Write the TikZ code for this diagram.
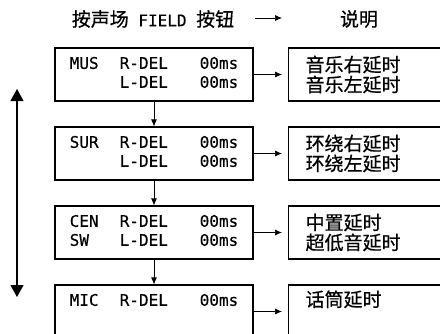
\documentclass[tikz,border=0pt]{standalone}
\usepackage{fontspec}
\setmonofont[FakeBold=0.4]{DejaVu Sans Mono}
\newfontfamily\cjk[FakeBold=0.6]{Noto Sans CJK SC}
\usetikzlibrary{arrows.meta, positioning}

\begin{document}
\begin{tikzpicture}[x=1pt, y=-1pt,
    lbox/.style={draw, line width=1.2pt, minimum width=198pt, minimum height=53pt, inner sep=0pt,
        font=\ttfamily\fontsize{16}{19}\selectfont},
    rbox/.style={draw, line width=1.2pt, minimum height=53pt, text width=138pt, inner xsep=17pt,
        inner ysep=0pt, align=left, anchor=west, font=\cjk\fontsize{19}{20}\selectfont},
    conn/.style={-{Latex[length=7pt,width=6pt]}, line width=0.7pt},
    updown/.style={{Triangle[length=12pt,width=13pt]}-{Triangle[length=12pt,width=13pt]}, line width=1.2pt}]
\useasboundingbox (0,0) rectangle (440,333);
\clip (0,0) rectangle (440,333);

% header
\node[font=\cjk\fontsize{19}{20}\selectfont] (head) at (153,19) {按声场{\ttfamily\fontsize{16}{19}\selectfont\ FIELD\ }按钮};
\node[font=\cjk\fontsize{19}{20}\selectfont] (note) at (359,19) {说明};
\coordinate (ha) at (255,18);
\coordinate (hb) at (282,18);
\draw[conn] (ha) -- (hb);

% display boxes
\node[lbox] (mus) at (154,74.5) {\begin{tabular}{@{}p{50pt}@{}p{80pt}@{}l@{}}MUS & R-DEL & 00ms\\ & L-DEL & 00ms\end{tabular}};
\node[lbox] (sur) at (154,153.5) {\begin{tabular}{@{}p{50pt}@{}p{80pt}@{}l@{}}SUR & R-DEL & 00ms\\ & L-DEL & 00ms\end{tabular}};
\node[lbox] (cen) at (154,232.5) {\begin{tabular}{@{}p{50pt}@{}p{80pt}@{}l@{}}CEN & R-DEL & 00ms\\ SW & L-DEL & 00ms\end{tabular}};
\node[lbox] (mic) at (154,311.5) {\begin{tabular}{@{}p{50pt}@{}p{80pt}@{}l@{}}MIC & R-DEL & 00ms\\ & & \end{tabular}};

% explanation boxes
\node[rbox] (musn) at (288,74.5) {音乐右延时\\音乐左延时};
\node[rbox] (surn) at (288,153.5) {环绕右延时\\环绕左延时};
\node[rbox] (cenn) at (288,232.5) {中置延时\\超低音延时};
\node[rbox] (micn) at (288,311.5) {话筒延时\\\strut};

\draw[conn] (mus) -- (sur);
\draw[conn] (sur) -- (cen);
\draw[conn] (cen) -- (mic);
\draw[conn, shorten >=6pt] (mus) -- (musn);
\draw[conn, shorten >=6pt] (sur) -- (surn);
\draw[conn, shorten >=6pt] (cen) -- (cenn);
\draw[conn, shorten >=6pt] (mic) -- (micn);

% scroll direction
\coordinate (top) at (17,89);
\coordinate (bot) at (17,297);
\draw[updown] (top) -- (bot);
\end{tikzpicture}
\end{document}
